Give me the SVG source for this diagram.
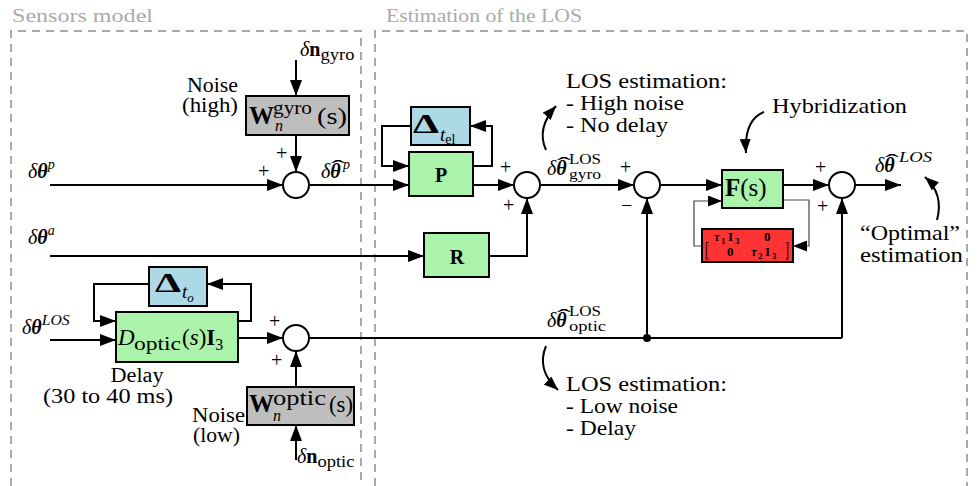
<svg xmlns="http://www.w3.org/2000/svg" width="978" height="486" viewBox="0 0 978 486" font-family="'Liberation Serif', 'DejaVu Serif', serif">
<defs>
<marker id="ah" markerUnits="userSpaceOnUse" markerWidth="17" markerHeight="12" refX="16" refY="6" orient="auto"><path d="M0,0 L16,6 L0,12 z" fill="#000"/></marker>
<marker id="ahs" markerUnits="userSpaceOnUse" markerWidth="15" markerHeight="11" refX="14" refY="5.5" orient="auto"><path d="M0,0 L14,5.5 L0,11 z" fill="#000"/></marker>
</defs>
<style>
text{font-family:"Liberation Serif","DejaVu Serif",serif;fill:#000;font-size:20px}
.title{font-size:19px;fill:#aaa}
.ann{font-size:21px}
.i{font-style:italic}
.bi{font-style:italic;font-weight:bold}
.b{font-weight:bold}
.s{font-size:14px}
.hat{font-size:22px}
.ln{fill:none;stroke:#000;stroke-width:2;marker-end:url(#ah)}
.pl{fill:none;stroke:#000;stroke-width:2}
.thin{fill:none;stroke:#444;stroke-width:1.2;marker-end:url(#ahs)}
.cv{fill:none;stroke:#000;stroke-width:2;marker-end:url(#ahs)}
.sum{fill:#fff;stroke:#000;stroke-width:2}
.gr{fill:#abf2ab;stroke:#000;stroke-width:2}
.bl{fill:#add8e6;stroke:#000;stroke-width:2}
.gy{fill:#bebebe;stroke:#000;stroke-width:2}
.rd{fill:#f33;stroke:#000;stroke-width:2}
.dash{fill:none;stroke:#aaa;stroke-width:2;stroke-dasharray:8 6}
.sg{font-size:20px}
.mx{font-size:13px;font-weight:bold}
.mxs{font-size:9px;font-weight:bold}
</style>

<g id="frames">
<path class="dash" d="M11,486 V31 H361 V486"/>
<path class="dash" d="M375,486 V31 H967 V486"/>
<text class="title" x="12" y="22" textLength="141" lengthAdjust="spacingAndGlyphs">Sensors model</text>
<text class="title" x="386" y="22" textLength="196" lengthAdjust="spacingAndGlyphs">Estimation of the LOS</text>
</g>

<g id="connectors">
<path class="ln" d="M296,60 V96"/>
<path class="ln" d="M296,135 V172"/>
<path class="ln" d="M50,185 H283"/>
<path class="ln" d="M309,185 H409"/>
<path class="ln" d="M473,166 H492 V126 H470"/>
<path class="ln" d="M411,126 H382 V166 H409"/>
<path class="ln" d="M473,185 H514"/>
<path class="ln" d="M50,256 H424"/>
<path class="ln" d="M489,256 H527 V198"/>
<path class="ln" d="M540,185 H634"/>
<path class="ln" d="M660,185 H722"/>
<path class="thin" d="M783,200 H809 V246 H793"/>
<path class="thin" d="M702,246 H694 V201 H722"/>
<path class="ln" d="M783,185 H829"/>
<path class="ln" d="M855,185 H901"/>
<path class="ln" d="M50,340 H116"/>
<path class="ln" d="M238,321 H251 V284 H207"/>
<path class="ln" d="M149,284 H94 V321 H116"/>
<path class="ln" d="M238,338 H283"/>
<path class="ln" d="M296,387 V351"/>
<path class="ln" d="M296,460 V425"/>
<path class="pl" d="M309,338 H842"/>
<path class="ln" d="M842,338 V198"/>
<path class="ln" d="M647,338 V198"/>
<circle cx="647" cy="338" r="4" fill="#000"/>
<path class="cv" d="M546,150 Q536,128 556,106"/>
<path class="cv" d="M546,346 Q536,370 558,390"/>
<path class="cv" d="M764,112 Q744,120 746,153"/>
<path class="cv" d="M937,220 Q944,194 925,177"/>
</g>

<g id="wgyro">
<rect class="gy" x="246" y="96" width="103" height="39"/>
<text x="249" y="124"><tspan class="b" font-size="25">W</tspan><tspan x="273" y="114" font-size="19" textLength="39" lengthAdjust="spacingAndGlyphs">gyro</tspan><tspan x="275" y="131" class="i" font-size="16">n</tspan><tspan x="317" y="124" font-size="24" textLength="30" lengthAdjust="spacingAndGlyphs">(s)</tspan></text>
</g>
<g id="noise-high">
<text x="238" y="92" text-anchor="end" textLength="51" lengthAdjust="spacingAndGlyphs">Noise</text>
<text x="238" y="112" text-anchor="end" textLength="56" lengthAdjust="spacingAndGlyphs">(high)</text>
</g>
<g id="ngyro">
<text x="300" y="56"><tspan class="i">δ</tspan><tspan class="b">n</tspan><tspan font-size="16" dy="4" textLength="34" lengthAdjust="spacingAndGlyphs">gyro</tspan></text>
</g>

<g id="sum1">
<circle class="sum" cx="296" cy="185" r="13"/>
<text x="276" y="160" class="sg">+</text>
<text x="258" y="178" class="sg">+</text>
</g>
<g id="lbl-thp">
<text x="28" y="178"><tspan class="i">δ</tspan><tspan class="bi">θ</tspan><tspan class="i s" dy="-9">p</tspan></text>
</g>
<g id="lbl-tha">
<text x="28" y="244"><tspan class="i">δ</tspan><tspan class="bi">θ</tspan><tspan class="i s" dy="-9">a</tspan></text>
</g>
<g id="lbl-thhp">
<text x="321" y="178"><tspan class="i">δ</tspan><tspan class="bi">θ</tspan><tspan class="hat" x="331" y="175" textLength="14" lengthAdjust="spacingAndGlyphs">ˆ</tspan><tspan class="i s" x="343" y="169">p</tspan></text>
</g>

<g id="P">
<rect class="gr" x="409" y="152" width="64" height="44"/>
<text x="441" y="182" text-anchor="middle" class="b" font-size="23">P</text>
</g>
<g id="Dtel">
<rect class="bl" x="411" y="107" width="59" height="38"/>
<text x="413" y="133"><tspan class="b" font-size="27" textLength="26" lengthAdjust="spacingAndGlyphs">Δ</tspan><tspan class="i" x="440" y="141" font-size="19">t</tspan><tspan font-size="14" y="144">el</tspan></text>
</g>

<g id="sum2">
<circle class="sum" cx="527" cy="185" r="13"/>
<text x="500" y="174" class="sg">+</text>
<text x="503" y="212" class="sg">+</text>
</g>
<g id="R">
<rect class="gr" x="424" y="233" width="65" height="44"/>
<text x="457" y="264" text-anchor="middle" class="b" font-size="24">R</text>
</g>
<g id="lbl-gyro">
<text x="547" y="175"><tspan class="i">δ</tspan><tspan class="bi">θ</tspan><tspan class="hat" x="557" y="172" textLength="14" lengthAdjust="spacingAndGlyphs">ˆ</tspan><tspan x="569" y="164" font-size="15" textLength="32" lengthAdjust="spacingAndGlyphs">LOS</tspan><tspan x="569" y="179" font-size="15" textLength="32" lengthAdjust="spacingAndGlyphs">gyro</tspan></text>
</g>

<g id="sum3">
<circle class="sum" cx="647" cy="185" r="13"/>
<text x="620" y="174" class="sg">+</text>
<text x="621" y="212" class="sg">−</text>
</g>

<g id="F">
<rect class="gr" x="722" y="170" width="61" height="38"/>
<text x="725" y="196"><tspan class="b" font-size="25">F</tspan><tspan font-size="25">(s)</tspan></text>
</g>
<g id="tau">
<rect class="rd" x="702" y="229" width="91" height="33"/>
<text x="705" y="256" font-size="36" transform="translate(705 256) scale(0.6 1) translate(-705 -256)">[</text>
<text x="785" y="256" font-size="36" transform="translate(785 256) scale(0.6 1) translate(-785 -256)">]</text>
<text x="714" y="241" class="mx"><tspan class="i">τ</tspan></text>
<text x="721" y="244" class="mxs">1</text>
<text x="728" y="241" class="mx">I</text>
<text x="735" y="244" class="mxs">3</text>
<text x="764" y="241" class="mx">0</text>
<text x="727" y="256" class="mx">0</text>
<text x="751" y="256" class="mx"><tspan class="i">τ</tspan></text>
<text x="758" y="259" class="mxs">2</text>
<text x="765" y="256" class="mx">I</text>
<text x="772" y="259" class="mxs">3</text>
</g>

<g id="sum4">
<circle class="sum" cx="842" cy="185" r="13"/>
<text x="815" y="174" class="sg">+</text>
<text x="817" y="213" class="sg">+</text>
</g>
<g id="lbl-out">
<text x="875" y="172"><tspan class="i">δ</tspan><tspan class="bi">θ</tspan><tspan class="hat" x="885" y="169" textLength="14" lengthAdjust="spacingAndGlyphs">ˆ</tspan><tspan class="i" font-size="15" x="899" y="162" textLength="33" lengthAdjust="spacingAndGlyphs">LOS</tspan></text>
</g>

<g id="Dopt">
<rect class="gr" x="116" y="312" width="122" height="50"/>
<text x="118" y="345"><tspan class="i" font-size="23">D</tspan><tspan x="134" y="350" font-size="19" textLength="47" lengthAdjust="spacingAndGlyphs">optic</tspan><tspan x="182" y="345" font-size="23">(</tspan><tspan class="i" font-size="23">s</tspan><tspan font-size="23">)</tspan><tspan class="b" font-size="23">I</tspan><tspan font-size="16" dy="5">3</tspan></text>
</g>
<g id="Dto">
<rect class="bl" x="149" y="267" width="58" height="39"/>
<text x="155" y="292"><tspan class="b" font-size="27" textLength="26" lengthAdjust="spacingAndGlyphs">Δ</tspan><tspan class="i" x="182" y="298" font-size="19">t</tspan><tspan class="i" font-size="13" y="302">o</tspan></text>
</g>
<g id="lbl-los">
<text x="22" y="334"><tspan class="i">δ</tspan><tspan class="bi">θ</tspan><tspan class="i" font-size="15" dy="-9" textLength="28" lengthAdjust="spacingAndGlyphs">LOS</tspan></text>
</g>
<g id="delay">
<text x="137" y="382" text-anchor="middle" textLength="53" lengthAdjust="spacingAndGlyphs">Delay</text>
<text x="43" y="403" textLength="130" lengthAdjust="spacingAndGlyphs">(30 to 40 ms)</text>
</g>

<g id="sum5">
<circle class="sum" cx="296" cy="338" r="13"/>
<text x="269" y="328" class="sg">+</text>
<text x="271" y="367" class="sg">+</text>
</g>
<g id="woptic">
<rect class="gy" x="247" y="387" width="107" height="38"/>
<text x="249" y="412"><tspan class="b" font-size="25">W</tspan><tspan x="273" y="405" font-size="20" textLength="53" lengthAdjust="spacingAndGlyphs">optic</tspan><tspan x="273" y="421" class="i" font-size="16">n</tspan><tspan x="329" y="412" font-size="24" textLength="24" lengthAdjust="spacingAndGlyphs">(s)</tspan></text>
</g>
<g id="noise-low">
<text x="245" y="422" text-anchor="end" textLength="53" lengthAdjust="spacingAndGlyphs">Noise</text>
<text x="240" y="442" text-anchor="end" textLength="47" lengthAdjust="spacingAndGlyphs">(low)</text>
</g>
<g id="noptic">
<text x="297" y="463"><tspan class="i">δ</tspan><tspan class="b">n</tspan><tspan font-size="16" dy="4" textLength="37" lengthAdjust="spacingAndGlyphs">optic</tspan></text>
</g>
<g id="lbl-optic">
<text x="547" y="327"><tspan class="i">δ</tspan><tspan class="bi">θ</tspan><tspan class="hat" x="557" y="324" textLength="14" lengthAdjust="spacingAndGlyphs">ˆ</tspan><tspan x="569" y="316" font-size="15" textLength="32" lengthAdjust="spacingAndGlyphs">LOS</tspan><tspan x="569" y="331" font-size="15" textLength="37" lengthAdjust="spacingAndGlyphs">optic</tspan></text>
</g>

<g id="ann-gyro">
<text class="ann" x="566" y="88" textLength="161" lengthAdjust="spacingAndGlyphs">LOS estimation:</text>
<text class="ann" x="566" y="110" textLength="118" lengthAdjust="spacingAndGlyphs">- High noise</text>
<text class="ann" x="566" y="132" textLength="102" lengthAdjust="spacingAndGlyphs">- No delay</text>
</g>
<g id="ann-optic">
<text class="ann" x="566" y="391" textLength="161" lengthAdjust="spacingAndGlyphs">LOS estimation:</text>
<text class="ann" x="566" y="413" textLength="112" lengthAdjust="spacingAndGlyphs">- Low noise</text>
<text class="ann" x="566" y="435" textLength="70" lengthAdjust="spacingAndGlyphs">- Delay</text>
</g>
<g id="ann-hyb">
<text class="ann" x="772" y="113" textLength="135" lengthAdjust="spacingAndGlyphs">Hybridization</text>
</g>
<g id="ann-opt">
<text class="ann" x="860" y="240" textLength="100" lengthAdjust="spacingAndGlyphs">“Optimal”</text>
<text class="ann" x="860" y="262" textLength="103" lengthAdjust="spacingAndGlyphs">estimation</text>
</g>
</svg>
